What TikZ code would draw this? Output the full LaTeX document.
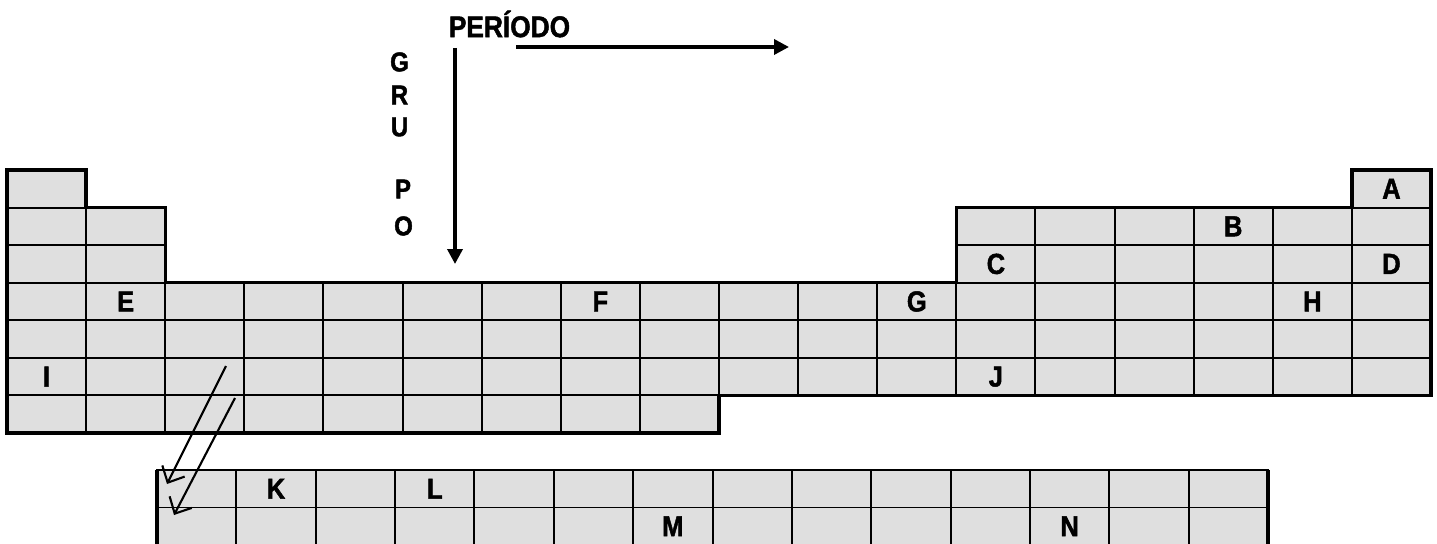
\documentclass[tikz,border=0pt]{standalone}
\usepackage{fontspec}
\setmainfont{Liberation Sans}[FakeStretch=0.88, BoldFeatures={FakeBold=1.6}]
\usetikzlibrary{arrows.meta}
\definecolor{cellgray}{HTML}{DFDFDF}
\begin{document}
\begin{tikzpicture}[x=0.02cm,y=-0.02cm,
  cellbox/.style={draw=black, line width=1.1pt, fill=cellgray, minimum width=1.5822cm, minimum height=0.7514cm, inner sep=0pt, outer sep=0pt},
  lanbox/.style={cellbox, minimum width=1.5872cm, minimum height=0.75cm},
  lbl/.style={font=\bfseries\fontsize{16.5}{17}\selectfont, inner sep=0pt},
  grp/.style={font=\bfseries\fontsize{15.5}{16}\selectfont, inner sep=0pt},
  title/.style={font=\bfseries\fontsize{17}{18}\selectfont, inner sep=0pt},
  outline/.style={draw=black, line width=1.9pt},
  bigarrow/.style={line width=2pt, -{Triangle[length=0.3cm, width=0.3cm]}},
  thinarrow/.style={line width=1.2pt, -{Straight Barb[length=0.26cm, width=0.5cm, line width=1.2pt]}}]
\useasboundingbox (0,0) rectangle (1437,544);
% main table
\foreach \r/\cols in {1/{1,18}, 2/{1,2,13,14,15,16,17,18}, 3/{1,2,13,14,15,16,17,18},
  4/{1,2,3,4,5,6,7,8,9,10,11,12,13,14,15,16,17,18},
  5/{1,2,3,4,5,6,7,8,9,10,11,12,13,14,15,16,17,18},
  6/{1,2,3,4,5,6,7,8,9,10,11,12,13,14,15,16,17,18},
  7/{1,2,3,4,5,6,7,8,9}}{
  \foreach \c in \cols {
    \node[cellbox] (m-\r-\c) at ({7+79.111*(\c-0.5)}, {170+37.571*(\r-0.5)}) {};
  }
}
\draw[outline] (7,170) -- (86.11,170) -- (86.11,207.57) -- (165.22,207.57) -- (165.22,282.71)
  -- (956.33,282.71) -- (956.33,207.57) -- (1351.89,207.57) -- (1351.89,170) -- (1431,170)
  -- (1431,395.43) -- (719,395.43) -- (719,433) -- (7,433) -- cycle;
% lanthanide/actinide block
\foreach \r in {1,2}{
  \foreach \c in {1,...,14}{
    \node[lanbox] (f-\r-\c) at ({157+79.36*(\c-0.5)}, {470+37.5*(\r-0.5)}) {};
  }
}
\draw[outline] (157,545) -- (157,470);
\draw[outline] (1268,470) -- (1268,545);
% cell labels
\node[lbl] (lA) at (m-1-18) {A};
\node[lbl] (lB) at (m-2-16) {B};
\node[lbl] (lC) at (m-3-13) {C};
\node[lbl] (lD) at (m-3-18) {D};
\node[lbl] (lE) at (m-4-2) {E};
\node[lbl] (lF) at (m-4-8) {F};
\node[lbl] (lG) at (m-4-12) {G};
\node[lbl] (lH) at (m-4-17) {H};
\node[lbl] (lI) at (m-6-1) {I};
\node[lbl] (lJ) at (m-6-13) {J};
\node[lbl] (lK) at (f-1-2) {K};
\node[lbl] (lL) at (f-1-4) {L};
\node[lbl] (lM) at (f-2-7) {M};
\node[lbl] (lN) at (f-2-12) {N};
% titles
\node[title] (periodo) at (509.5,24) {PERÍODO};
\node[grp] (g1) at (399.5,62) {G};
\node[grp] (g2) at (399.5,95) {R};
\node[grp] (g3) at (399.5,127) {U};
\node[grp] (g4) at (403,189) {P};
\node[grp] (g5) at (403.5,226) {O};
% arrows
\coordinate (vs) at (455,48);
\coordinate (ve) at (455,264);
\coordinate (hs) at (516,47);
\coordinate (he) at (789,47);
\draw[bigarrow] (vs) -- (ve);
\draw[bigarrow] (hs) -- (he);
\coordinate (d1s) at (226,366);
\coordinate (d1e) at (167,484);
\coordinate (d2s) at (235,398);
\coordinate (d2e) at (174,515);
\draw[thinarrow] (d1s) -- (d1e);
\draw[thinarrow] (d2s) -- (d2e);
\end{tikzpicture}
\end{document}
